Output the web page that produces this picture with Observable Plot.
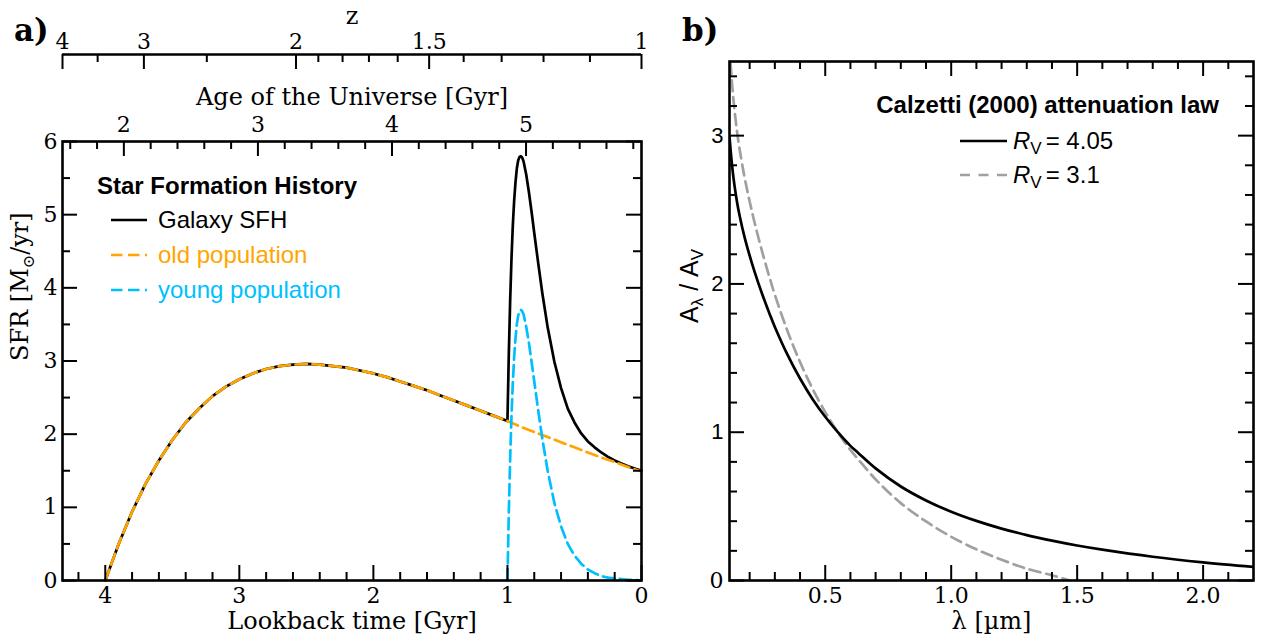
<!DOCTYPE html>
<html><head><meta charset="utf-8">
<script src="https://cdn.jsdelivr.net/npm/d3@7"></script>
<script src="https://cdn.jsdelivr.net/npm/@observablehq/plot@0.6"></script>
<style>
body{margin:0;background:#fff;}
#fig{position:relative;width:1261px;height:637px;overflow:hidden;background:#fff;}
.panel{position:absolute;top:0;}
.txt{position:absolute;white-space:nowrap;line-height:1;transform:translateY(-50%);}
.plabel{font-family:"DejaVu Serif";font-weight:bold;font-size:31px;}
.leg{font-family:"Liberation Sans",Arial,sans-serif;font-size:24px;}
.legsub{font-size:17px;position:relative;top:5px;margin-right:4px;}
</style></head>
<body><div id="fig"></div>
<script>
// ---------- Panel a data ----------
const oldLookback = [4.0,3.9,3.8,3.7,3.6,3.5,3.4,3.3,3.2,3.1,3.0,2.9,2.8,2.7,2.6,2.5,2.4,2.3,2.2,2.1,2.0,1.9,1.8,1.7,1.6,1.5,1.4,1.3,1.2,1.1,1.0,0.9,0.8,0.7,0.6,0.5,0.4,0.3,0.2,0.1,0.0];
const oldSFR      = [0,0.50,0.94,1.32,1.64,1.92,2.16,2.35,2.52,2.65,2.75,2.83,2.89,2.93,2.95,2.96,2.95,2.93,2.91,2.87,2.83,2.78,2.72,2.66,2.60,2.53,2.46,2.39,2.32,2.25,2.18,2.10,2.03,1.96,1.89,1.82,1.75,1.68,1.62,1.55,1.49];

const youngLookback = [1.0,0.99,0.98,0.97,0.96,0.95,0.94,0.93,0.92,0.91,0.90,0.89,0.88,0.86,0.84,0.82,0.80,0.77,0.74,0.70,0.65,0.60,0.55,0.50,0.45,0.40,0.35,0.30,0.25,0.20,0.15,0.10,0.05,0.0];
const youngSFR      = [0,0.91,1.65,2.24,2.70,3.05,3.31,3.50,3.62,3.68,3.70,3.68,3.64,3.47,3.25,2.99,2.72,2.32,1.94,1.50,1.06,0.74,0.50,0.34,0.23,0.15,0.10,0.06,0.04,0.03,0.02,0.01,0.01,0.00];

const galaxyLookback = [4.0,3.9,3.8,3.7,3.6,3.5,3.4,3.3,3.2,3.1,3.0,2.9,2.8,2.7,2.6,2.5,2.4,2.3,2.2,2.1,2.0,1.9,1.8,1.7,1.6,1.5,1.4,1.3,1.2,1.1,1.0,
  0.99,0.98,0.97,0.96,0.95,0.94,0.93,0.92,0.91,0.90,0.89,0.88,0.86,0.84,0.82,0.80,0.77,0.74,0.70,0.65,0.60,0.55,0.50,0.45,0.40,0.35,0.30,0.25,0.20,0.15,0.10,0.05,0.0];
const galaxySFR = [0,0.50,0.94,1.32,1.64,1.92,2.16,2.35,2.52,2.65,2.75,2.83,2.89,2.93,2.95,2.96,2.95,2.93,2.91,2.87,2.83,2.78,2.72,2.66,2.60,2.53,2.46,2.39,2.32,2.25,2.18,
  3.08,3.81,4.39,4.85,5.19,5.44,5.63,5.74,5.79,5.80,5.78,5.73,5.55,5.31,5.04,4.75,4.33,3.93,3.46,2.99,2.63,2.35,2.16,2.01,1.90,1.82,1.75,1.69,1.64,1.60,1.56,1.53,1.50];

// ticks panel a
const lookbackMajor = [4,3,2,1,0];
const lookbackMinor = [4.2,3.8,3.6,3.4,3.2,2.8,2.6,2.4,2.2,1.8,1.6,1.4,1.2,0.8,0.6,0.4,0.2];
const sfrMajor = [0,1,2,3,4,5,6];
const sfrMinor = [0.5,1.5,2.5,3.5,4.5,5.5];
const ageMajor = [2,3,4,5];
const ageMinor = [1.6,1.8,2.2,2.4,2.6,2.8,3.2,3.4,3.6,3.8,4.2,4.4,4.6,4.8,5.2,5.4,5.6,5.8];
const zMajor = [4,3,2,1.5,1];
const zMajorLabels = ["4","3","2","1.5","1"];
const zMinor = [3.5,2.5,1.9,1.8,1.7,1.6,1.4,1.3,1.2,1.1];

// legend a
const sfhNames  = ["Galaxy SFH","old population","young population"];
const sfhColors = ["#000000","#FFA500","#00BFFF"];
const sfhDash   = [null,"11.5,5.5","11.5,5.5"];

// ---------- Panel b data ----------
const lambda405 = [0.12,0.13,0.14,0.15,0.16,0.18,0.20,0.22,0.25,0.28,0.30,0.35,0.40,0.45,0.50,0.55,0.60,0.63,0.70,0.80,0.90,1.0,1.1,1.2,1.3,1.4,1.5,1.6,1.8,2.0,2.2];
const att405    = [2.993,2.801,2.661,2.551,2.462,2.314,2.191,2.080,1.930,1.794,1.710,1.523,1.362,1.223,1.104,1.000,0.908,0.862,0.756,0.634,0.540,0.464,0.402,0.350,0.306,0.269,0.236,0.208,0.160,0.122,0.091];
const lambda31  = [0.12,0.13,0.14,0.15,0.16,0.18,0.20,0.22,0.25,0.28,0.30,0.35,0.40,0.45,0.50,0.55,0.60,0.63,0.70,0.80,0.90,1.0,1.1,1.2,1.3,1.4,1.47];
const att31     = [3.603,3.353,3.170,3.027,2.910,2.717,2.556,2.411,2.215,2.037,1.927,1.683,1.473,1.292,1.136,0.999,0.880,0.819,0.682,0.522,0.398,0.295,0.210,0.140,0.080,0.035,0.000];

const lamMajor = [0.5,1.0,1.5,2.0];
const lamMajorLabels = ["0.5","1.0","1.5","2.0"];
const lamMinor = [0.2,0.3,0.4,0.6,0.7,0.8,0.9,1.1,1.2,1.3,1.4,1.6,1.7,1.8,1.9,2.1];
const attMajor = [0,1,2,3];
const attMinor = [0.2,0.4,0.6,0.8,1.2,1.4,1.6,1.8,2.2,2.4,2.6,2.8,3.2,3.4];

const calzNames  = ["4.05","3.1"];
const calzColors = ["#000000","#A0A0A0"];
const calzDash   = [null,"11,6"];

// ---------- cosmology transform for secondary axes (flat LCDM) ----------
const H0 = 67.7, Om = 0.31;
function ageGyr(z){const OL=1-Om;const tH=977.8/H0;return tH*2/(3*Math.sqrt(OL))*Math.asinh(Math.sqrt(OL/Om)*Math.pow(1+z,-1.5));}
const ageRef = ageGyr(1);
const lbOfZ = z => ageRef - ageGyr(z);
const lbOfAge = a => ageRef - a;
const lbMax = lbOfZ(4);

const fig = document.getElementById("fig");
const SERIF = '"DejaVu Serif", serif';
const SANS = '"Liberation Sans", Arial, sans-serif';
const MAJ = 15, MIN = 8;

function ticksX(vals, fn, innerH, len, side, sw, extra={}) {
  const o = side === "bottom" ? {insetTop: innerH - len} : {insetBottom: innerH - len};
  return Plot.ruleX(vals, {x: fn, stroke: "#000", strokeWidth: sw, ...o, ...extra});
}
function ticksY(vals, innerW, len, side, sw) {
  const o = side === "left" ? {insetRight: innerW - len} : {insetLeft: innerW - len};
  return Plot.ruleY(vals, {y: d => d, stroke: "#000", strokeWidth: sw, ...o});
}

// ---------- Panel a ----------
const A = {w: 660, h: 637, ml: 62, mr: 19, mt: 141, mb: 57};
const aIH = A.h - A.mt - A.mb, aIW = A.w - A.ml - A.mr;
const plotA = Plot.plot({
  width: A.w, height: A.h, marginLeft: A.ml, marginRight: A.mr, marginTop: A.mt, marginBottom: A.mb,
  style: {fontFamily: SERIF, fontSize: "22px", background: "transparent", overflow: "visible", color: "#000"},
  x: {domain: [lbMax, 0], axis: null},
  y: {domain: [0, 6], axis: null},
  marks: [
    Plot.line(galaxySFR, {x: galaxyLookback, y: galaxySFR, stroke: "#000", strokeWidth: 2.7}),
    Plot.line(oldSFR, {x: oldLookback, y: oldSFR, stroke: sfhColors[1], strokeWidth: 2.7, strokeDasharray: sfhDash[1]}),
    Plot.line(youngSFR, {x: youngLookback, y: youngSFR, stroke: sfhColors[2], strokeWidth: 2.7, strokeDasharray: sfhDash[2]}),
    Plot.frame({stroke: "#000", strokeWidth: 2.6}),
    ticksX(lookbackMajor, d => d, aIH, MAJ, "bottom", 2),
    ticksX(lookbackMinor, d => d, aIH, MIN, "bottom", 2),
    ticksX(ageMajor, lbOfAge, aIH, MAJ, "top", 2),
    ticksX(ageMinor, lbOfAge, aIH, MIN, "top", 2),
    ticksY(sfrMajor, aIW, MAJ, "left", 2), ticksY(sfrMinor, aIW, MIN, "left", 2),
    ticksY(sfrMajor, aIW, MAJ, "right", 2), ticksY(sfrMinor, aIW, MIN, "right", 2),
    // z axis (offset above)
    Plot.ruleY([6], {dy: -87, stroke: "#000", strokeWidth: 2.6}),
    ticksX(zMajor, lbOfZ, aIH, MAJ, "top", 2, {dy: -87}),
    ticksX(zMinor, lbOfZ, aIH, MIN, "top", 2, {dy: -87}),
    // tick labels
    Plot.text(lookbackMajor, {x: d => d, text: d => String(d), frameAnchor: "bottom", lineAnchor: "top", dy: 7, fontSize: 22}),
    Plot.text(sfrMajor, {y: d => d, text: d => String(d), frameAnchor: "left", textAnchor: "end", dx: -5, fontSize: 22}),
    Plot.text(ageMajor, {x: lbOfAge, text: d => String(d), frameAnchor: "top", lineAnchor: "bottom", dy: -10, fontSize: 22}),
    Plot.text(zMajor, {x: lbOfZ, text: (d, i) => zMajorLabels[i], frameAnchor: "top", lineAnchor: "bottom", dy: -93, fontSize: 22}),
    // axis labels
    Plot.text(["Lookback time [Gyr]"], {frameAnchor: "bottom", lineAnchor: "middle", dy: 41, fontSize: 24}),
    Plot.text(["Age of the Universe [Gyr]"], {frameAnchor: "top", lineAnchor: "middle", dy: -44, fontSize: 24}),
    Plot.text(["z"], {frameAnchor: "top", lineAnchor: "middle", dy: -125, fontSize: 24}),
    Plot.text(["SFR_LABEL"], {frameAnchor: "left", lineAnchor: "middle", rotate: -90, dx: -42, fontSize: 24})
  ]
});
const divA = document.createElement("div");
divA.className = "panel"; divA.style.left = "0px";
divA.appendChild(plotA);
fig.appendChild(divA);
d3.select(plotA).selectAll("text").filter(function(){return this.textContent === "SFR_LABEL";})
  .html('SFR [M<tspan dy="6" font-size="16">⊙</tspan><tspan dy="-6">/yr]</tspan>');

// ---------- Panel b ----------
const B = {x0: 660, w: 601, h: 637, ml: 69, mr: 8, mt: 61, mb: 57};
const bIH = B.h - B.mt - B.mb, bIW = B.w - B.ml - B.mr;
const plotB = Plot.plot({
  width: B.w, height: B.h, marginLeft: B.ml, marginRight: B.mr, marginTop: B.mt, marginBottom: B.mb,
  style: {fontFamily: SERIF, fontSize: "22px", background: "transparent", overflow: "visible", color: "#000"},
  x: {domain: [0.12, 2.2], axis: null},
  y: {domain: [0, 3.5], axis: null},
  marks: [
    Plot.line(att31, {x: lambda31, y: att31, stroke: calzColors[1], strokeWidth: 2.7, strokeDasharray: calzDash[1], curve: "catmull-rom", clip: true}),
    Plot.line(att405, {x: lambda405, y: att405, stroke: calzColors[0], strokeWidth: 2.7, curve: "catmull-rom", clip: true}),
    Plot.frame({stroke: "#000", strokeWidth: 2.6}),
    ticksX(lamMajor, d => d, bIH, MAJ, "bottom", 2), ticksX(lamMinor, d => d, bIH, MIN, "bottom", 2),
    ticksX(lamMajor, d => d, bIH, MAJ, "top", 2), ticksX(lamMinor, d => d, bIH, MIN, "top", 2),
    ticksY(attMajor, bIW, MAJ, "left", 2), ticksY(attMinor, bIW, MIN, "left", 2),
    ticksY(attMajor, bIW, MAJ, "right", 2), ticksY(attMinor, bIW, MIN, "right", 2),
    Plot.text(lamMajor, {x: d => d, text: (d, i) => lamMajorLabels[i], frameAnchor: "bottom", lineAnchor: "top", dy: 7, fontSize: 22}),
    Plot.text([attMajor[0]], {y: d => d, text: d => String(d), frameAnchor: "left", textAnchor: "end", dx: -6, fontSize: 22}),
    Plot.text(attMajor.slice(1), {y: d => d, text: d => String(d), frameAnchor: "left", textAnchor: "end", dx: -6, fontSize: 22, fontFamily: SANS}),
    Plot.text(["λ [µm]"], {frameAnchor: "bottom", lineAnchor: "middle", dy: 41, fontSize: 24}),
    Plot.text(["ATT_LABEL"], {frameAnchor: "left", lineAnchor: "middle", rotate: -90, dx: -40, dy: 2, fontSize: 25, fontFamily: SANS})
  ]
});
const divB = document.createElement("div");
divB.className = "panel"; divB.style.left = B.x0 + "px";
divB.appendChild(plotB);
fig.appendChild(divB);
d3.select(plotB).selectAll("text").filter(function(){return this.textContent === "ATT_LABEL";})
  .html('A<tspan dy="5" font-size="17">λ</tspan><tspan dy="-5"> / A</tspan><tspan dy="5" font-size="17">V</tspan>');

// ---------- overlays: panel letters and legends ----------
function addText(html, x, y, cls, extraStyle = {}) {
  const d = document.createElement("div");
  d.className = "txt " + cls;
  d.innerHTML = html;
  d.style.left = x + "px"; d.style.top = y + "px";
  Object.assign(d.style, extraStyle);
  fig.appendChild(d);
  return d;
}
function addSample(x, y, len, color, dash) {
  const ns = "http://www.w3.org/2000/svg";
  const s = document.createElementNS(ns, "svg");
  s.setAttribute("width", len); s.setAttribute("height", 8);
  s.style.position = "absolute"; s.style.left = x + "px"; s.style.top = (y - 4) + "px";
  const l = document.createElementNS(ns, "line");
  l.setAttribute("x1", 0); l.setAttribute("x2", len); l.setAttribute("y1", 4); l.setAttribute("y2", 4);
  l.setAttribute("stroke", color); l.setAttribute("stroke-width", 2.7);
  if (dash) l.setAttribute("stroke-dasharray", dash);
  s.appendChild(l);
  fig.appendChild(s);
}
addText("a)", 14, 30, "plabel");
addText("b)", 682, 30, "plabel");

addText("Star Formation History", 97, 186, "leg", {fontWeight: "bold"});
sfhNames.forEach((n, i) => {
  const y = 220 + i * 35;
  addSample(111, y, 36, sfhColors[i], sfhDash[i]);
  addText(n, 158, y, "leg", {color: sfhColors[i]});
});

addText("Calzetti (2000) attenuation law", 1219, 105, "leg", {fontWeight: "bold", transform: "translate(-100%,-50%)"});
calzNames.forEach((n, i) => {
  const y = 141 + i * 34;
  addSample(960, y, 47, calzColors[i], i === 1 ? "10,8.5" : null);
  addText('<i>R</i><span class="legsub">V</span>= ' + n, 1013, y, "leg");
});
</script>
</body></html>
